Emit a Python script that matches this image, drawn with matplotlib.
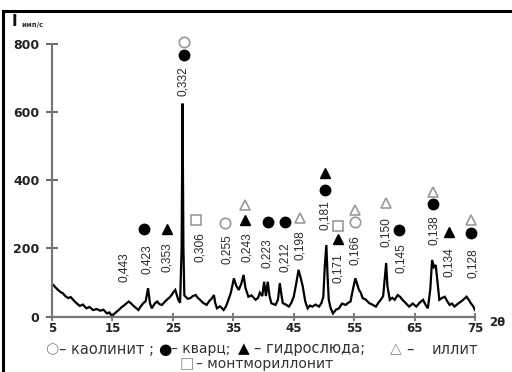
import matplotlib
matplotlib.use("Agg")
import matplotlib.pyplot as plt
from matplotlib.lines import Line2D

# ---------------- data ----------------
two_theta = [5.0, 5.2, 5.6, 6.0, 6.4, 6.8, 7.2, 7.7, 8.1, 8.5, 9.0, 9.6, 10.1, 10.7, 11.2, 11.8,
             12.4, 13.0, 13.5, 14.1, 14.5, 14.9, 15.3, 15.7, 16.1, 16.5, 17.1, 17.7, 18.1, 18.5,
             18.9, 19.3, 19.7, 20.1, 20.5, 20.9, 21.2, 21.5, 22.0, 22.4, 22.8, 23.2, 23.6, 24.0,
             24.4, 24.8, 25.1, 25.4, 25.7, 25.9, 26.2, 26.45, 26.6, 26.75, 26.9, 27.1, 27.5, 27.9,
             28.3, 28.8, 29.1, 29.5, 30.0, 30.6, 31.0, 31.4, 31.8, 32.0, 32.3, 32.8, 33.4, 33.8,
             34.2, 34.6, 35.1, 35.5, 35.9, 36.3, 36.7, 37.0, 37.5, 38.0, 38.7, 39.1, 39.4, 39.8,
             40.1, 40.4, 40.7, 41.0, 41.3, 42.0, 42.4, 42.7, 43.0, 43.2, 43.7, 44.2, 44.6, 45.0,
             45.4, 45.8, 46.2, 46.5, 46.9, 47.3, 47.7, 48.1, 48.6, 49.2, 49.6, 49.9, 50.15, 50.4,
             50.6, 50.8, 51.1, 51.5, 52.0, 52.5, 53.0, 53.6, 54.0, 54.4, 54.8, 55.2, 55.5, 55.8,
             56.1, 56.4, 56.9, 57.5, 58.0, 58.6, 59.0, 59.4, 59.8, 60.1, 60.3, 60.5, 60.9, 61.3,
             61.7, 62.2, 62.6, 63.0, 63.5, 64.1, 64.7, 65.3, 65.8, 66.4, 66.8, 67.2, 67.6, 67.9,
             68.2, 68.5, 68.8, 69.1, 69.6, 70.0, 70.4, 70.8, 71.2, 71.6, 72.2, 72.7, 73.1, 73.6,
             74.0, 74.3, 74.7, 75.0]
intensity = [95, 93, 85, 78, 72, 68, 60, 54, 57, 49, 40, 31, 35, 24, 28, 19,
             22, 17, 20, 9, 12, 0, 8, 14, 20, 27, 35, 44, 38, 31,
             25, 19, 30, 39, 45, 83, 40, 24, 38, 44, 36, 34, 42, 49,
             55, 63, 72, 78, 60, 49, 40, 200, 625, 200, 62, 58, 52, 54,
             60, 63, 55, 49, 40, 34, 45, 52, 63, 40, 24, 30, 19, 30,
             49, 70, 112, 90, 78, 95, 122, 85, 58, 62, 49, 55, 70, 60,
             102, 60, 102, 60, 39, 34, 50, 98, 60, 39, 35, 29, 40, 58,
             95, 137, 110, 88, 45, 24, 32, 29, 35, 29, 40, 58, 150, 210,
             120, 49, 25, 9, 20, 24, 38, 34, 40, 44, 80, 112, 95, 78,
             70, 54, 50, 39, 35, 29, 40, 49, 60, 120, 157, 90, 49, 55,
             49, 63, 58, 49, 40, 29, 38, 29, 40, 49, 35, 24, 80, 166,
             145, 151, 100, 49, 55, 58, 45, 34, 38, 29, 38, 44, 50, 58,
             48, 39, 30, 19]

# d-spacing labels (text, 2theta, bottom of text in intensity units)
d_labels = ["0,443", "0,423", "0,353", "0,332", "0,306", "0,255", "0,243", "0,223", "0,212",
            "0,198", "0,181", "0,171", "0,166", "0,150", "0,145", "0,138", "0,134", "0,128"]
d_x = [16.9, 20.8, 24.1, 26.7, 29.5, 33.9, 37.3, 40.6, 43.6,
       46.1, 50.1, 52.4, 55.1, 60.2, 62.7, 68.2, 70.7, 74.7]
d_y = [100, 124, 130, 646, 159, 153, 159, 142, 130,
       165, 254, 97, 150, 204, 127, 209, 115, 112]

# mineral markers
kaolinite_x = [26.8, 33.7, 55.1]
kaolinite_y = [805, 274, 277]
quartz_x = [20.3, 26.8, 40.8, 43.6, 50.1, 62.5, 68.0, 74.3]
quartz_y = [257, 767, 277, 277, 372, 254, 330, 245]
hydromica_x = [24.1, 37.0, 50.1, 52.3, 70.7]
hydromica_y = [257, 283, 422, 227, 248]
illite_x = [37.0, 46.0, 55.1, 60.2, 68.0, 74.3]
illite_y = [327, 289, 313, 333, 366, 283]
montm_x = [28.9, 52.3]
montm_y = [283, 265]

x_ticks = [5, 15, 25, 35, 45, 55, 65, 75]
y_ticks = [0, 200, 400, 600, 800]

# ---------------- figure ----------------
W, H = 512, 372
fig = plt.figure(figsize=(W / 100, H / 100), dpi=100)
fig.patch.set_facecolor("white")

def fx(px):
    return px / W

def fy(py):
    return 1 - py / H

ax = fig.add_axes([fx(52), fy(316.5), fx(475) - fx(52), fy(44) - fy(316.5)])
ax.set_xlim(5, 75)
ax.set_ylim(0, 800)

ax.plot(two_theta, intensity, color="black", lw=1.6, solid_joinstyle="miter")

for s in ["top", "right"]:
    ax.spines[s].set_visible(False)
for s in ["left", "bottom"]:
    ax.spines[s].set_color("#777777")
    ax.spines[s].set_linewidth(1.6)

ax.set_xticks(x_ticks)
ax.set_yticks(y_ticks)
ax.tick_params(axis="y", direction="inout", length=8, width=1.4, color="#666666",
               labelsize=9, labelcolor="#222222", pad=5)
ax.tick_params(axis="x", direction="inout", length=6, width=1.2, color="#666666",
               labelsize=8.5, labelcolor="#222222", pad=1)
for lab in ax.get_xticklabels() + ax.get_yticklabels():
    lab.set_fontweight("bold")
    lab.set_family("DejaVu Sans")

# d-spacing annotations
for t, x, y in zip(d_labels, d_x, d_y):
    ax.text(x, y, t, rotation=90, ha="center", va="bottom", fontsize=8.6,
            family="Liberation Sans", color="#2a2a2a", clip_on=False)

mk = dict(linestyle="none", clip_on=False)
ax.plot(kaolinite_x, kaolinite_y, marker="o", ms=7.5, mfc="white", mec="#999999", mew=1.2, **mk)
ax.plot(quartz_x, quartz_y, marker="o", ms=7.5, mfc="black", mec="black", **mk)
ax.plot(hydromica_x, hydromica_y, marker="^", ms=7, mfc="black", mec="black", **mk)
ax.plot(illite_x, illite_y, marker="^", ms=7.5, mfc="white", mec="#999999", mew=1.2, **mk)
ax.plot(montm_x, montm_y, marker="s", ms=7, mfc="white", mec="#999999", mew=1.2, **mk)

# axis titles
fig.text(fx(12), fy(22), "I", fontsize=11, fontweight="bold", family="DejaVu Sans",
         va="center", ha="left", color="#111111")
fig.text(fx(21), fy(25), "имп/с", fontsize=5, fontweight="bold", family="DejaVu Sans",
         va="center", ha="left", color="#333333")
fig.text(fx(489), fy(322), "2θ", fontsize=8.5, fontweight="bold", family="DejaVu Sans",
         va="center", ha="left", color="#222222")

# frame lines (top & left)
fig.add_artist(Line2D([fx(3), fx(3)], [fy(11), 0], color="black", lw=2.2, transform=fig.transFigure))
fig.add_artist(Line2D([fx(3), 1], [fy(11), fy(11)], color="black", lw=2.2, transform=fig.transFigure))

# legend (pieces placed along two lines)
legend_pieces = [
    ("○", 45, 349, "#888888", 11),
    ("– каолинит ;", 59, 349, "#333333", 10.5),
    ("●", 158, 349, "black", 11),
    ("– кварц;", 171, 349, "#333333", 10),
    ("▲", 238, 349, "black", 11),
    ("– гидрослюда;", 254, 349, "#333333", 10.5),
    ("△", 390, 349, "#888888", 11),
    ("–", 406, 349, "#333333", 10.5),
    ("иллит", 432, 349, "#333333", 10.5),
    ("□", 180, 364, "#888888", 11),
    ("– монтмориллонит", 196, 364, "#333333", 10),
]
for s, px, py, c, fs in legend_pieces:
    fig.text(fx(px), fy(py), s, fontsize=fs, color=c, family="DejaVu Sans",
             ha="left", va="center")

fig.savefig("out.png", dpi=100, facecolor="white")
